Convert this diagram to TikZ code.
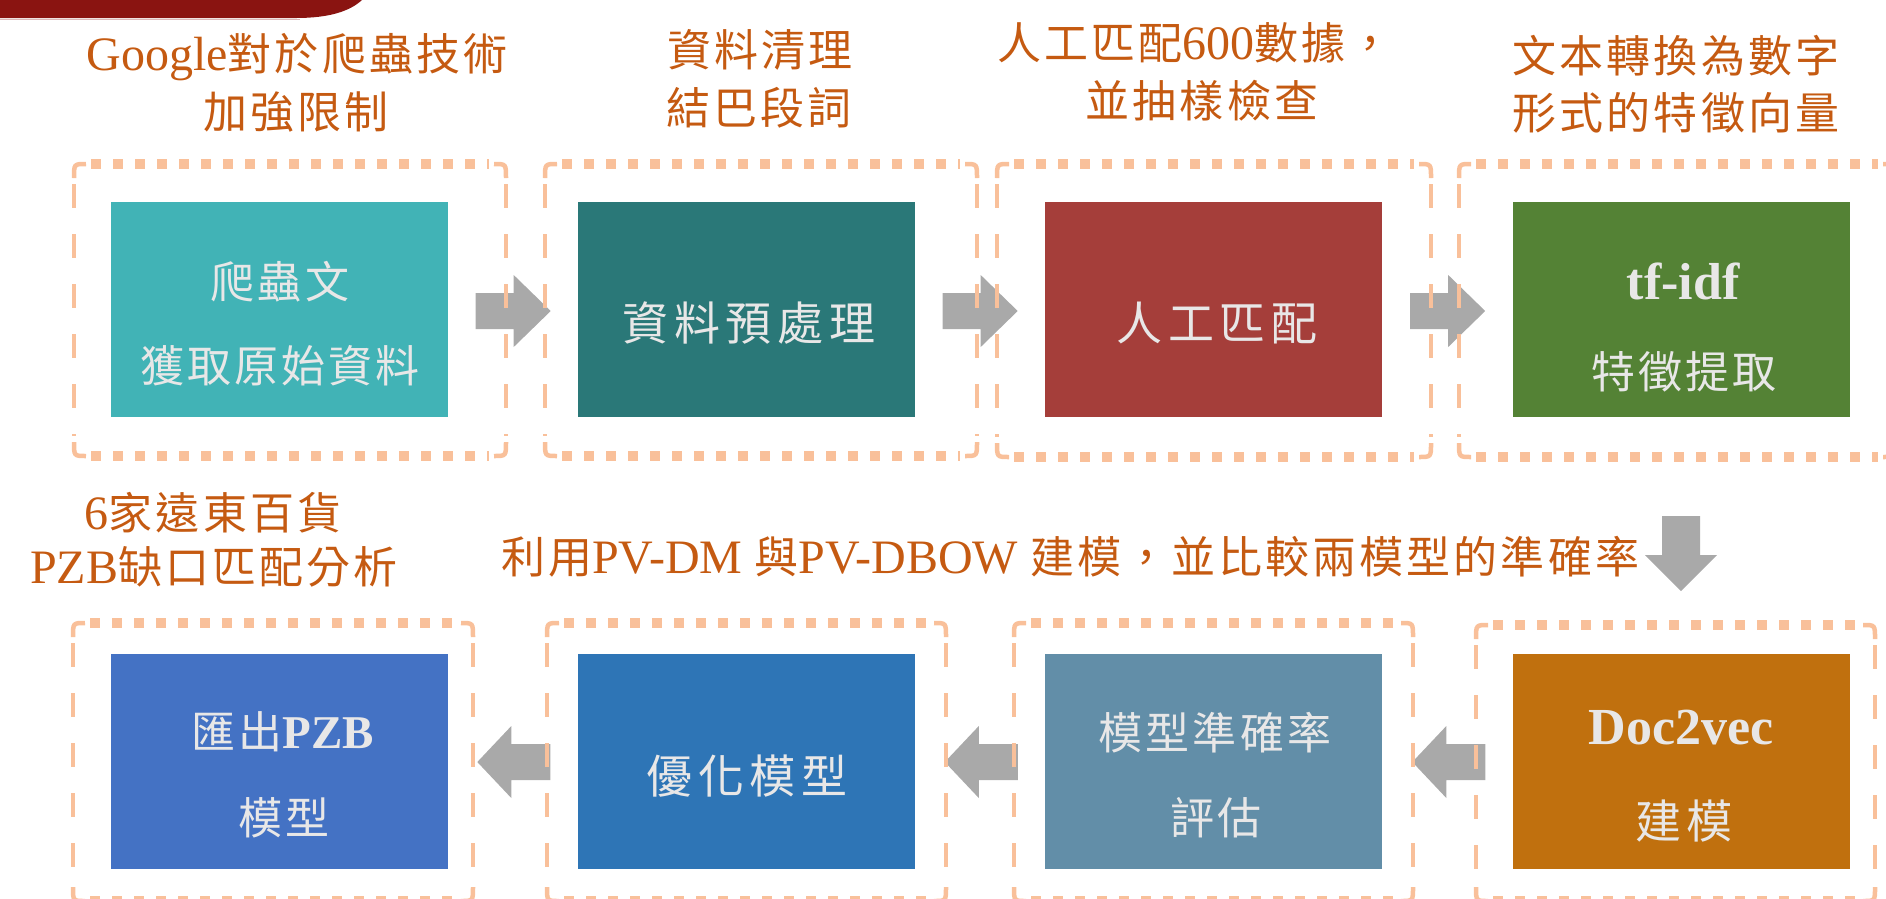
\documentclass[tikz,border=0pt]{standalone}
\usepackage{fontspec}
\setmainfont{Liberation Serif}
\newfontfamily\cjklab[LetterSpace=7]{Noto Sans CJK TC}
\newfontfamily\cjkbox[LetterSpace=7]{Noto Sans CJK TC}
\newfontfamily\cjkwide[LetterSpace=12]{Noto Sans CJK TC}
\newcommand\labcjk[1]{{\cjklab\fontsize{44}{58}\selectfont #1}}
\newcommand\boxcjk[1]{{\cjkbox\fontsize{44}{84}\selectfont #1}}
\newcommand\widecjk[1]{{\cjkwide\fontsize{46}{84}\selectfont #1}}
\newcommand\boxlat[1]{{\fontsize{52}{84}\selectfont\bfseries #1}}
\definecolor{labcol}{HTML}{C55A11}
\definecolor{boxtxt}{HTML}{E8E7E7}
\definecolor{framecol}{HTML}{F9C09A}
\definecolor{arrcol}{HTML}{A9A9A9}
\definecolor{bannercol}{HTML}{8A1411}
\definecolor{cA}{HTML}{41B3B6}
\definecolor{cB}{HTML}{2A7878}
\definecolor{cC}{HTML}{A53E3A}
\definecolor{cD}{HTML}{548235}
\definecolor{cE}{HTML}{C0700E}
\definecolor{cF}{HTML}{628EA8}
\definecolor{cG}{HTML}{2E75B6}
\definecolor{cH}{HTML}{4472C4}
\tikzset{
  procbox/.style={rectangle, inner sep=0pt, minimum width=337pt, minimum height=215pt, draw=none},
  lab/.style={inner sep=0pt, text=labcol, font=\fontsize{48}{58}\selectfont, text height=46.5pt, text depth=13.5pt},
  btxt/.style={inner sep=0pt, text=boxtxt, font=\fontsize{42}{84}\selectfont, text height=47pt, text depth=13pt},
  fhoriz/.style={draw=framecol, line width=10pt, dash pattern=on 10pt off 12pt},
  fvert/.style={draw=framecol, line width=4.5pt, dash pattern=on 24pt off 26pt},
  fcorner/.style={draw=framecol, line width=4.5pt},
  blockarrow/.style={fill=arrcol, draw=none}
}
\newcommand\dashframe[4]{%
  \draw[fhoriz] ({#1+17},#2) -- ({#3-17},#2);
  \draw[fhoriz] ({#1+17},#4) -- ({#3-17},#4);
  \draw[fvert] (#1,{#2+20}) -- (#1,{#4-20});
  \draw[fvert] (#3,{#2+20}) -- (#3,{#4-20});
  \draw[fcorner] (#1,{#2+14}) .. controls (#1,#2) .. ({#1+12},#2);
  \draw[fcorner] ({#3-12},#2) .. controls (#3,#2) .. (#3,{#2+14});
  \draw[fcorner] (#1,{#4-14}) .. controls (#1,#4) .. ({#1+12},#4);
  \draw[fcorner] ({#3-12},#4) .. controls (#3,#4) .. (#3,{#4-14});
}
\begin{document}
\begin{tikzpicture}[x=1pt, y=-1pt]
\useasboundingbox (0,0) rectangle (1886,898);
% banner
\fill[bannercol] (0,0) -- (362,0) .. controls (350,11) and (330,18) .. (296,18) -- (0,18) -- cycle;
\draw[draw=bannercol!30, line width=1.5pt] (0,19.5) -- (300,19.5);

% top labels
\node[lab] (l1a) at (297,54) {Google\labcjk{對於爬蟲技術}};
\node[lab] (l1b) at (296,112) {\labcjk{加強限制}};
\node[lab] (l2a) at (760,50) {\labcjk{資料清理}};
\node[lab] (l2b) at (759,108) {\labcjk{結巴段詞}};
\node[lab] (l3a) at (1195,43) {\labcjk{人工匹配}600\labcjk{數據，}};
\node[lab] (l3b) at (1202,101) {\labcjk{並抽樣檢查}};
\node[lab] (l4a) at (1676,56) {\labcjk{文本轉換為數字}};
\node[lab] (l4b) at (1676,113) {\labcjk{形式的特徵向量}};
\node[lab] (l5a) at (213,513) {6\labcjk{家遠東百貨}};
\node[lab] (l5b) at (214,567) {PZB\labcjk{缺口匹配分析}};
\node[lab, anchor=west] (l6) at (501,557) {\labcjk{利用}PV-DM \labcjk{與}PV-DBOW \labcjk{建模，並比較兩模型的準確率}};

% boxes
\node[procbox, fill=cA] (b1) at (279,309.5) {};
\node[procbox, fill=cB] (b2) at (746,309.5) {};
\node[procbox, fill=cC] (b3) at (1213.5,309.5) {};
\node[procbox, fill=cD] (b4) at (1681,309.5) {};
\node[procbox, fill=cE] (b5) at (1681,761) {};
\node[procbox, fill=cF] (b6) at (1213.5,761) {};
\node[procbox, fill=cG] (b7) at (746,761) {};
\node[procbox, fill=cH] (b8) at (279,761) {};

% box texts
\node[btxt] (t1a) at (280,281) {\boxcjk{爬蟲文}};
\node[btxt] (t1b) at (280,365) {\boxcjk{獲取原始資料}};
\node[btxt] (t2) at (749,323) {\widecjk{資料預處理}};
\node[btxt] (t3) at (1217,323) {\widecjk{人工匹配}};
\node[btxt] (t4a) at (1683,282) {\boxlat{tf-idf}};
\node[btxt] (t4b) at (1684,371) {\boxcjk{特徵提取}};
\node[btxt] (t5a) at (1681,727) {\boxlat{Doc2vec}};
\node[btxt] (t5b) at (1684,821) {\widecjk{建模}};
\node[btxt] (t6a) at (1215,732) {\boxcjk{模型準確率}};
\node[btxt] (t6b) at (1216,817) {\boxcjk{評估}};
\node[btxt] (t7) at (747,776) {\widecjk{優化模型}};
\node[btxt] (t8a) at (283,731) {\boxcjk{匯出}{\fontsize{47}{84}\selectfont\bfseries PZB}};
\node[btxt] (t8b) at (284,817) {\boxcjk{模型}};

% block arrows, row 1 (to the right)
\foreach \s/\t in {b1/b2, b2/b3, b3/b4}{
  \path (\s.east) ++(28,1.5) coordinate (ar-\s);
  \fill[blockarrow] (ar-\s) ++(0,-18) -- ++(38,0) -- ++(0,-18) -- ++(37,36) -- ++(-37,36) -- ++(0,-18) -- ++(-38,0) -- cycle;
}
% down arrow
\path (b4.south) ++(0,99) coordinate (ar-down);
\fill[blockarrow] (ar-down) ++(-19,0) -- ++(0,39) -- ++(-17,0) -- ++(36,36) -- ++(36,-36) -- ++(-17,0) -- ++(0,-39) -- cycle;
% row 2 (to the left)
\foreach \s/\t in {b5/b6, b6/b7, b7/b8}{
  \path (\s.west) ++(-27,1) coordinate (ar-\s);
  \fill[blockarrow] (ar-\s) ++(0,-18) -- ++(-39,0) -- ++(0,-18) -- ++(-34,36) -- ++(34,36) -- ++(0,-18) -- ++(39,0) -- cycle;
}

% dashed frames
\dashframe{74}{164}{506}{456}
\dashframe{545}{164}{977}{456}
\dashframe{997}{164}{1431}{457}
\dashframe{1459}{164}{1895}{457}
\dashframe{73}{623}{473}{901}
\dashframe{547}{623}{946}{901}
\dashframe{1014}{623}{1413}{901}
\dashframe{1476}{625}{1875}{901}
\end{tikzpicture}
\end{document}
